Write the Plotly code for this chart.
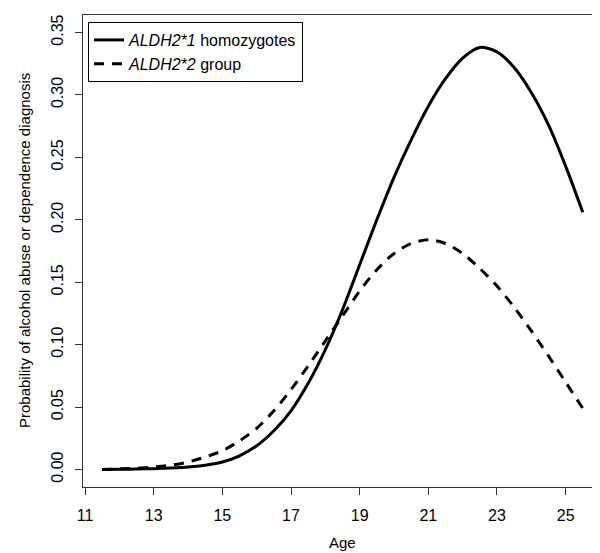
import plotly.graph_objects as go

# ages (years) and estimated probabilities
age = [11.5, 12, 12.5, 13, 13.5, 14, 14.5, 15, 15.5, 16, 16.5, 17, 17.5, 18,
       18.5, 19, 19.5, 20, 20.5, 21, 21.5, 22, 22.5, 23, 23.5, 24, 24.5, 25, 25.5]

aldh2_1 = [0.0, 0.0002, 0.0004, 0.0007, 0.0012, 0.002, 0.0035, 0.006, 0.011,
           0.019, 0.031, 0.047, 0.069, 0.096, 0.128, 0.164, 0.200, 0.234,
           0.264, 0.291, 0.313, 0.3295, 0.338, 0.3345, 0.322, 0.302, 0.276,
           0.243, 0.206]

aldh2_2 = [0.0, 0.0005, 0.001, 0.002, 0.0035, 0.006, 0.010, 0.015, 0.023,
           0.033, 0.047, 0.064, 0.083, 0.103, 0.123, 0.143, 0.160, 0.173,
           0.181, 0.184, 0.181, 0.173, 0.161, 0.147, 0.130, 0.111, 0.091,
           0.070, 0.049]

x_ticks = [11, 13, 15, 17, 19, 21, 23, 25]
y_ticks = [0.00, 0.05, 0.10, 0.15, 0.20, 0.25, 0.30, 0.35]

FONT = 'Arial, Liberation Sans, sans-serif'

# plot box in pixels (600 x 553 page)
L, R, T, B = 75, 594, 7, 479
W, H = R - L, B - T

fig = go.Figure()

fig.add_trace(go.Scatter(
    x=age,
    y=aldh2_1,
    mode='lines',
    line={'color': 'black', 'width': 3, 'shape': 'spline', 'smoothing': 0.8},
    name='<i>ALDH2*1</i> homozygotes'
))

fig.add_trace(go.Scatter(
    x=age,
    y=aldh2_2,
    mode='lines',
    line={'color': 'black', 'width': 3, 'dash': '10px,8px',
          'shape': 'spline', 'smoothing': 0.8},
    name='<i>ALDH2*2</i> group'
))

fig.update_layout(
    width=600,
    height=553,
    margin={'l': L, 'r': 600 - R, 't': T, 'b': 553 - B},
    plot_bgcolor='white',
    paper_bgcolor='white',
    font={'family': FONT, 'size': 15, 'color': 'black'},
    showlegend=True,
    legend={
        'x': (80 - L) / W,
        'y': (B - 14) / H,
        'xanchor': 'left',
        'yanchor': 'top',
        'bordercolor': 'black',
        'borderwidth': 1,
        'bgcolor': 'white',
        'font': {'size': 16},
        'tracegroupgap': 0,
    },
    annotations=[
        {
            'text': 'Age',
            'x': 0.5, 'y': -(534 - B) / H,
            'xref': 'paper', 'yref': 'paper',
            'xanchor': 'center', 'yanchor': 'middle',
            'showarrow': False,
            'font': {'size': 15},
        },
        {
            'text': 'Probability of alcohol abuse or dependence diagnosis',
            'x': -(L - 16) / W, 'y': 0.5,
            'xref': 'paper', 'yref': 'paper',
            'xanchor': 'center', 'yanchor': 'middle',
            'textangle': -90,
            'showarrow': False,
            'font': {'size': 15},
        },
    ]
)

fig.update_xaxes(
    range=[10.94, 26.06],
    tickvals=x_ticks,
    ticks='outside',
    ticklen=7,
    tickcolor='#333',
    showline=True,
    linecolor='#333',
    linewidth=1,
    mirror=True,
    showgrid=False,
    zeroline=False,
    ticklabelstandoff=7,
    tickfont={'size': 16},
)

fig.update_yaxes(
    range=[-0.014, 0.364],
    tickvals=y_ticks,
    tickformat='.2f',
    tickangle=-90,
    ticks='outside',
    ticklen=7,
    tickcolor='#333',
    showline=True,
    linecolor='#333',
    linewidth=1,
    mirror=True,
    showgrid=False,
    zeroline=False,
    ticklabelstandoff=6,
    tickfont={'size': 16},
)

fig.write_html("out.html")
